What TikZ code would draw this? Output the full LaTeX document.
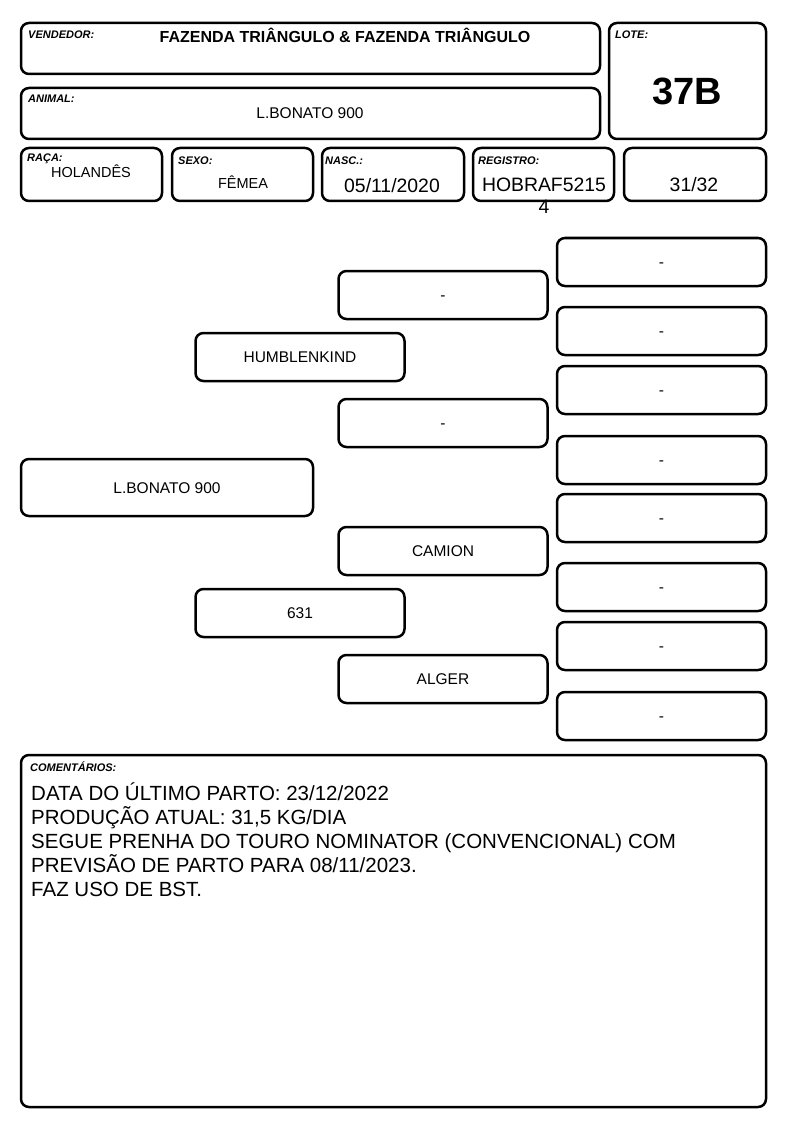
\documentclass[tikz,border=0pt]{standalone}
\usepackage{fontspec}
\setmainfont{Liberation Sans}

\begin{document}
\begin{tikzpicture}[x=1pt, y=-1pt,
		box/.style={draw, line width=2.5pt, rounded corners=8pt},
		pbox/.style={box, minimum width=209pt, minimum height=48pt, inner sep=0pt, text height=11pt, text depth=0pt, font=\fontsize{15.5}{18}\selectfont},
		lbl/.style={anchor=base west, inner sep=0pt, font=\fontsize{11}{13}\selectfont\bfseries\itshape},
		val/.style={anchor=base, inner sep=0pt}]
			\useasboundingbox (0, 0) rectangle (794, 1123);
			
			% cabecalho
			\draw[box] (21, 23) rectangle (600, 74);
			\node[lbl] (vendlbl) at (28, 39) {VENDEDOR:};
			\node[val, font=\fontsize{16}{19}\selectfont\bfseries] (vendedor) at (345, 42.7) {FAZENDA TRIÂNGULO \& FAZENDA TRIÂNGULO};
			
			\draw[box] (21, 88) rectangle (600, 139);
			\node[lbl] (animlbl) at (28, 103) {ANIMAL:};
			\node[val, font=\fontsize{15.5}{18}\selectfont] (animal) at (310, 118.5) {L.BONATO 900};
			
			\draw[box] (609, 23) rectangle (766, 139);
			\node[lbl] (lotelbl) at (615, 39) {LOTE:};
			\node[val, font=\fontsize{38}{44}\selectfont\bfseries] (lote) at (687, 105) {37B};
			
			\draw[box] (21, 148) rectangle (162, 201);
			\node[lbl] (racalbl) at (27, 162) {RAÇA:};
			\node[val, font=\fontsize{14.5}{17}\selectfont] (raca) at (91, 178) {HOLANDÊS};
			
			\draw[box] (172, 148) rectangle (313, 201);
			\node[lbl] (sexolbl) at (178, 165) {SEXO:};
			\node[val, font=\fontsize{14.5}{17}\selectfont] (sexo) at (243, 189) {FÊMEA};
			
			\draw[box] (322, 148) rectangle (464, 201);
			\node[lbl] (nasclbl) at (325, 165) {NASC.:};
			\node[val, font=\fontsize{19.4}{22}\selectfont] (nasc) at (392, 193) {05/11/2020};
			
			\draw[box] (473, 148) rectangle (614, 201);
			\node[lbl] (reglbl) at (478, 165) {REGISTRO:};
			\node[val, font=\fontsize{19.4}{22}\selectfont] (registro) at (544, 192) {HOBRAF5215};
			\node[val, font=\fontsize{19.4}{22}\selectfont] (registrob) at (544, 214) {4};
			
			\draw[box] (624, 148) rectangle (766, 201);
			\node[val, font=\fontsize{19.4}{22}\selectfont] (grau) at (694, 192) {31/32};
			
			% genealogia
			\node[box, minimum width=292pt, minimum height=57pt, inner sep=0pt, text height=11pt, text depth=0pt, font=\fontsize{15.5}{18}\selectfont] (filho) at (167, 487.5) {L.BONATO 900};
			
			\node[pbox] (pai) at (300, 357) {HUMBLENKIND};
			\node[pbox] (mae) at (300, 613) {631};
			
			\node[pbox] (avopp) at (443, 295) {-};
			\node[pbox] (avomp) at (443, 423) {-};
			\node[pbox] (avopm) at (443, 551) {CAMION};
			\node[pbox] (avomm) at (443, 679) {ALGER};
			
			\node[pbox] (bis1) at (661.5, 262) {-};
			\node[pbox] (bis2) at (661.5, 331) {-};
			\node[pbox] (bis3) at (661.5, 390) {-};
			\node[pbox] (bis4) at (661.5, 460) {-};
			\node[pbox] (bis5) at (661.5, 518) {-};
			\node[pbox] (bis6) at (661.5, 587) {-};
			\node[pbox] (bis7) at (661.5, 646) {-};
			\node[pbox] (bis8) at (661.5, 716) {-};
			
			% comentarios
			\draw[box] (21, 755) rectangle (766, 1107);
			\node[lbl] (comlbl) at (30, 771) {COMENTÁRIOS:};
			\node[val, anchor=base west, font=\fontsize{20.5}{24}\selectfont] (com1) at (31, 800) {DATA DO ÚLTIMO PARTO: 23/12/2022};
			\node[val, anchor=base west, font=\fontsize{20.5}{24}\selectfont] (com2) at (31, 824) {PRODUÇÃO ATUAL: 31,5 KG/DIA};
			\node[val, anchor=base west, font=\fontsize{20.5}{24}\selectfont] (com3) at (31, 848) {SEGUE PRENHA DO TOURO NOMINATOR (CONVENCIONAL) COM};
			\node[val, anchor=base west, font=\fontsize{20.5}{24}\selectfont] (com4) at (31, 872) {PREVISÃO DE PARTO PARA 08/11/2023.};
			\node[val, anchor=base west, font=\fontsize{20.5}{24}\selectfont] (com5) at (31, 896) {FAZ USO DE BST.};
			
		\end{tikzpicture}
\end{document}
